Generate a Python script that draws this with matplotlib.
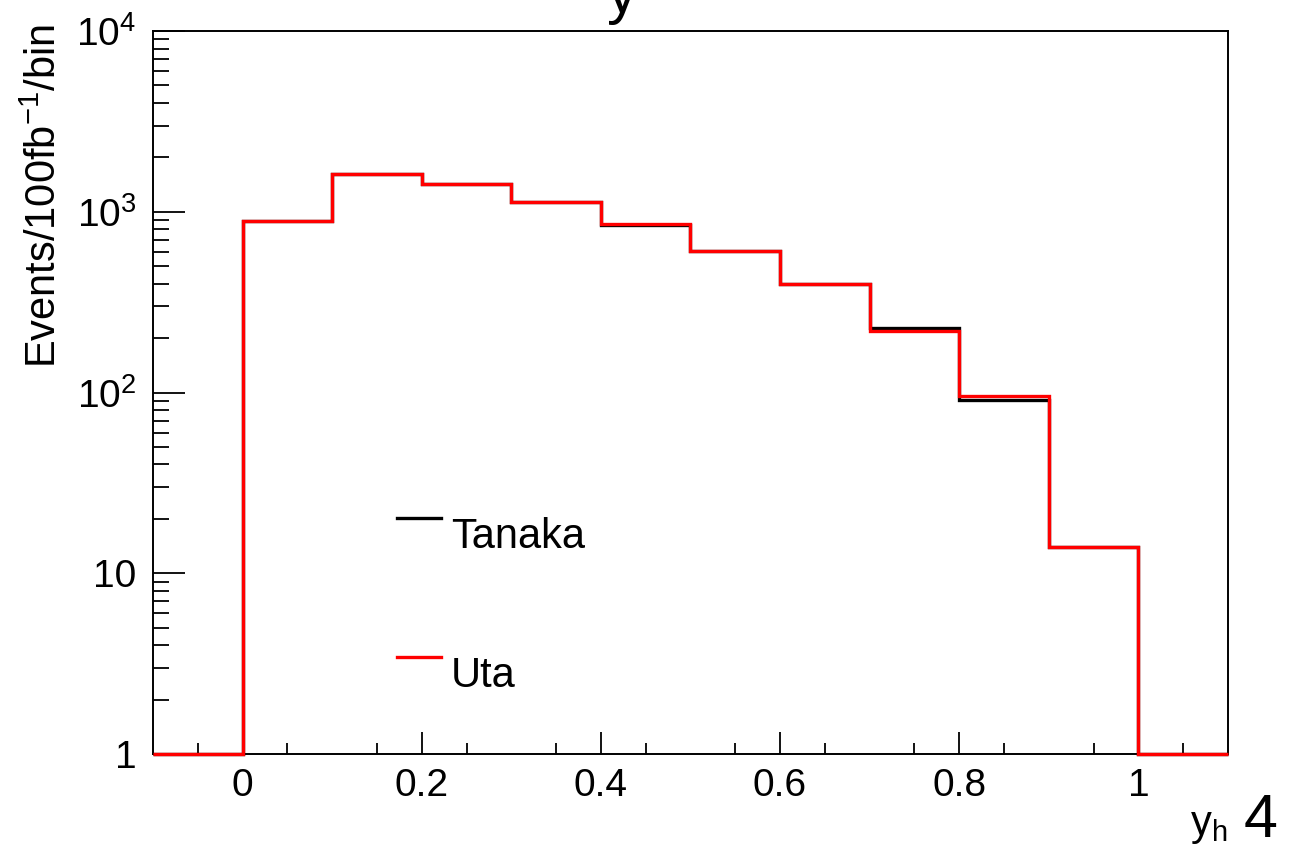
import matplotlib
matplotlib.use("Agg")
import matplotlib.pyplot as plt
from matplotlib.lines import Line2D
from matplotlib.ticker import FixedLocator, LogLocator, NullFormatter
import numpy as np

plt.rcParams['font.family'] = ['Liberation Sans', 'DejaVu Sans']
plt.rcParams['mathtext.fontset'] = 'custom'
plt.rcParams['mathtext.rm'] = 'Liberation Sans'
plt.rcParams['mathtext.it'] = 'Liberation Sans:italic'

# bin edges of y_h histogram (with one empty bin either side)
bin_edges = [-0.1, 0.0, 0.1, 0.2, 0.3, 0.4, 0.5, 0.6, 0.7, 0.8, 0.9, 1.0, 1.1]
tanaka = [0, 890, 1622, 1420, 1135, 850, 605, 398, 227, 91, 14.0, 0]
uta = [0, 890, 1618, 1425, 1130, 856, 604, 398, 219, 96, 14.0, 0]

x_ticks = [0, 0.2, 0.4, 0.6, 0.8, 1.0]
x_tick_labels = ['0', '0.2', '0.4', '0.6', '0.8', '1']
y_ticks = [1, 10, 100, 1000, 10000]
y_tick_labels = ['1', '10', r'$\mathregular{10^{2}}$', r'$\mathregular{10^{3}}$', r'$\mathregular{10^{4}}$']

fig = plt.figure(figsize=(12.93, 8.55), dpi=100)
ax = fig.add_axes([0.1183, 0.1181, 0.8314, 0.8456])

ymin, ymax = 1, 1e4
# empty bins sit on the bottom of the frame, as in ROOT
ax.stairs(np.clip(tanaka, ymin, None), bin_edges, color='black', lw=2.4, baseline=None,
          zorder=3, clip_on=False)
ax.stairs(np.clip(uta, ymin, None), bin_edges, color='#ff0000', lw=2.4, baseline=None,
          zorder=3, clip_on=False)

ax.set_xlim(-0.1, 1.1)
ax.set_yscale('log')
ax.set_ylim(ymin, ymax)

ax.xaxis.set_major_locator(FixedLocator(x_ticks))
ax.set_xticklabels(x_tick_labels)
ax.xaxis.set_minor_locator(FixedLocator(np.arange(-0.05, 1.1, 0.1)))
ax.yaxis.set_major_locator(FixedLocator(y_ticks))
ax.set_yticklabels(y_tick_labels)
ax.yaxis.set_minor_locator(LogLocator(base=10, subs=np.arange(2, 10)))
ax.yaxis.set_minor_formatter(NullFormatter())

ax.tick_params(axis='x', which='major', direction='in', length=16, width=1.3,
               labelsize=28, pad=10, top=False)
ax.tick_params(axis='x', which='minor', direction='in', length=8, width=1.3, top=False)
ax.tick_params(axis='y', which='major', direction='in', length=23, width=1.3,
               labelsize=28, pad=12, right=False)
ax.tick_params(axis='y', which='minor', direction='in', length=11.5, width=1.3, right=False)
for s in ax.spines.values():
    s.set_linewidth(1.4)

# axis titles, ROOT style
fig.text(45 / 1293, 1 - 24 / 855, r'Events/100fb$\mathregular{^{-1}}$/bin', rotation=90,
         ha='center', va='top', fontsize=30)
fig.text(1227 / 1293, 1 - 826 / 855, r'$\mathregular{y_{h}}$', ha='right', va='center',
         fontsize=30)
fig.text(1244 / 1293, 1 - 821 / 855, '4', ha='left', va='center', fontsize=44)

# title, mostly above the canvas
fig.text(622 / 1293, 1 - 12 / 855, 'y', ha='center', va='baseline', fontsize=44)

# legend
for yy, col, name in [(518, 'black', 'Tanaka'), (657, '#ff0000', 'Uta')]:
    fig.add_artist(Line2D([397 / 1293, 441 / 1293], [1 - yy / 855, 1 - yy / 855],
                          color=col, lw=2.4))
    fig.text(451 / 1293, 1 - (yy + 19) / 855, name, ha='left', va='center', fontsize=30)

fig.savefig('out.png', dpi=100)
